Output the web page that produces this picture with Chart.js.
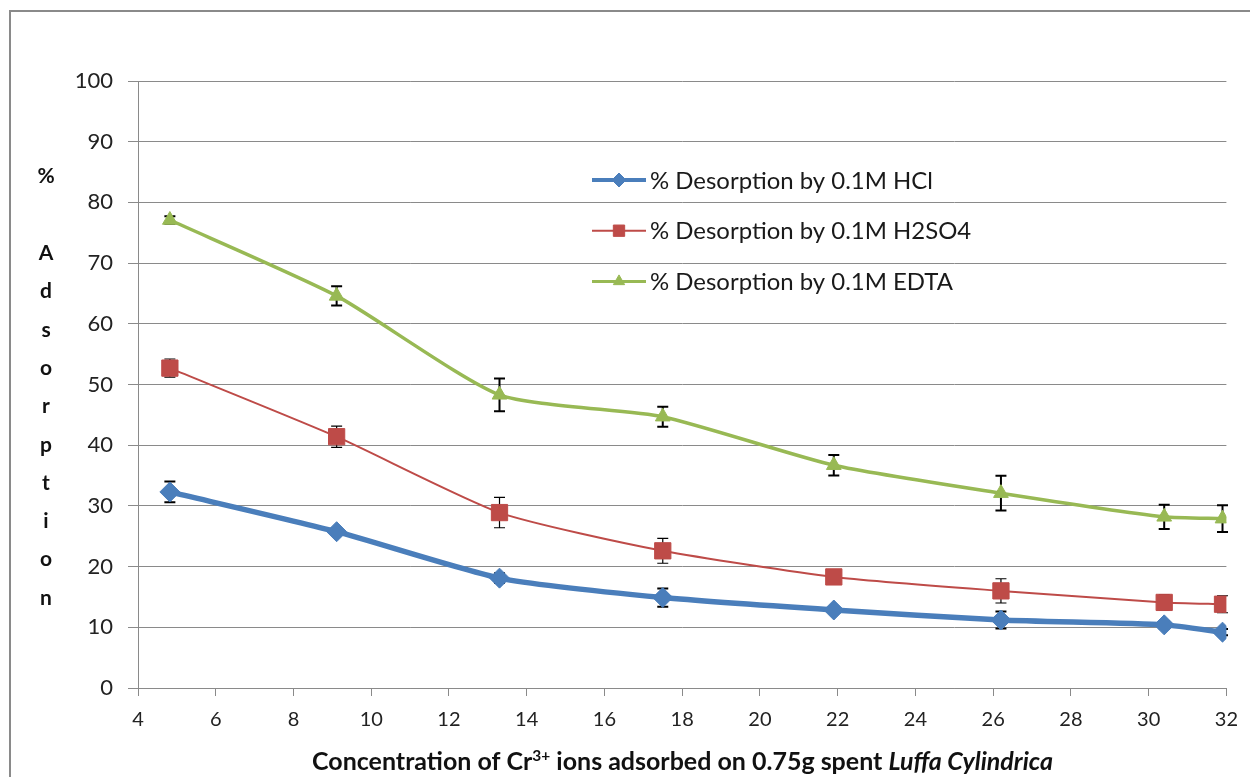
<!DOCTYPE html>
<html><head><meta charset="utf-8">
<script src="https://cdn.jsdelivr.net/npm/chart.js@4.4.1/dist/chart.umd.min.js"></script>
<style>html,body{margin:0;padding:0;background:#fff;}canvas{display:block;}</style>
</head><body>
<canvas id="c" width="1250" height="777"></canvas>
<script>
// ---- data ----
const concentration = [4.82, 9.11, 13.3, 17.5, 21.9, 26.2, 30.4, 31.9];
const hcl      = [32.3, 25.75, 18.1, 14.9, 12.85, 11.2, 10.4, 9.2];
const hclErr   = [1.7, 0.5, 0.8, 1.5, 0.5, 1.4, 0.6, 0.5];
const h2so4    = [52.7, 41.4, 28.9, 22.6, 18.3, 16.0, 14.1, 13.8];
const h2so4Err = [1.5, 1.75, 2.5, 2.05, 0.6, 2.0, 1.3, 1.4];
const edta     = [77.1, 64.6, 48.3, 44.7, 36.7, 32.1, 28.2, 27.9];
const edtaErr  = [0.6, 1.6, 2.7, 1.65, 1.7, 2.85, 2.0, 2.2];
const seriesLabels = ['% Desorption by 0.1M HCl', '% Desorption by 0.1M H2SO4', '% Desorption by 0.1M EDTA'];
const yTickValues = [0, 10, 20, 30, 40, 50, 60, 70, 80, 90, 100];
const xTickValues = [4, 6, 8, 10, 12, 14, 16, 18, 20, 22, 24, 26, 28, 30, 32];
const yTitleLines = ['%', '', 'A', 'd', 's', 'o', 'r', 'p', 't', 'i', 'o', 'n'];
const xTitleParts = [
  {text: 'Concentration of Cr', kind: 'bold'},
  {text: '3+', kind: 'sup'},
  {text: ' ions adsorbed on 0.75g spent ', kind: 'bold'},
  {text: 'Luffa Cylindrica', kind: 'bolditalic'}
];

const FONT = 'Lato';
const pts = ys => concentration.map((x, i) => ({x: x, y: ys[i]}));

const framePlugin = {
  id: 'frame',
  beforeDraw(chart) {
    const ctx = chart.ctx;
    ctx.save();
    ctx.fillStyle = '#fff';
    ctx.fillRect(0, 0, chart.width, chart.height);
    ctx.strokeStyle = '#8a8a8a';
    ctx.lineWidth = 2;
    ctx.strokeRect(10, 11, 1400, 1000);
    ctx.restore();
  }
};

const errorBarPlugin = {
  id: 'errbars',
  beforeDatasetsDraw(chart) {
    const ctx = chart.ctx, ys = chart.scales.y;
    ctx.save();
    ctx.strokeStyle = '#000';
    chart.data.datasets.forEach((ds, di) => {
      const meta = chart.getDatasetMeta(di);
      ctx.lineWidth = ds.errLineWidth;
      meta.data.forEach((p, j) => {
        const v = ds.data[j].y, e = ds.errs[j];
        const top = ys.getPixelForValue(v + e), bot = ys.getPixelForValue(v - e);
        ctx.beginPath();
        ctx.moveTo(p.x, top); ctx.lineTo(p.x, bot);
        ctx.moveTo(p.x - 5.5, top); ctx.lineTo(p.x + 5.5, top);
        ctx.moveTo(p.x - 5.5, bot); ctx.lineTo(p.x + 5.5, bot);
        ctx.stroke();
      });
    });
    ctx.restore();
  }
};

const textPlugin = {
  id: 'texts',
  afterDraw(chart) {
    const ctx = chart.ctx;
    ctx.save();
    // legend (inside plot, transparent)
    const legendX0 = 592, legendX1 = 646, textX = 650, legendY0 = 180, legendStep = 50.7;
    ctx.font = '20px ' + FONT;
    const lw = ctx.measureText(seriesLabels[0]).width;
    const legSize = 20 * 283 / lw;
    chart.data.datasets.forEach((ds, i) => {
      const y = legendY0 + i * legendStep;
      ctx.strokeStyle = ds.borderColor;
      ctx.lineWidth = ds.legendLineWidth;
      ctx.beginPath(); ctx.moveTo(legendX0, y); ctx.lineTo(legendX1, y); ctx.stroke();
      ctx.fillStyle = ds.backgroundColor;
      ctx.strokeStyle = ds.backgroundColor;
      ctx.lineWidth = 1;
      Chart.helpers.drawPoint(ctx, {pointStyle: ds.pointStyle, rotation: 0, borderWidth: 1, radius: ds.legendPointRadius},
        (legendX0 + legendX1) / 2, y);
      ctx.fillStyle = '#1a1a1a';
      ctx.font = legSize.toFixed(2) + 'px ' + FONT;
      ctx.textBaseline = 'middle';
      ctx.textAlign = 'left';
      ctx.fillText(ds.label, textX, y + 1);
    });

    // y-axis title: stacked letters
    ctx.fillStyle = '#111';
    ctx.font = 'bold 21px ' + FONT;
    ctx.textAlign = 'center';
    ctx.textBaseline = 'alphabetic';
    yTitleLines.forEach((s, i) => {
      if (s) ctx.fillText(s, 46, 260 + (i - 2) * 38.3);
    });

    // x-axis title with superscript and italic part
    const fontFor = (kind, size) => {
      if (kind === 'sup') return 'bold ' + (size * 0.62).toFixed(2) + 'px ' + FONT;
      if (kind === 'bolditalic') return 'italic bold ' + size.toFixed(2) + 'px ' + FONT;
      return 'bold ' + size.toFixed(2) + 'px ' + FONT;
    };
    let w = 0;
    xTitleParts.forEach(p => { ctx.font = fontFor(p.kind, 20); w += ctx.measureText(p.text).width; });
    const size = 20 * 741 / w;
    let total = 0;
    xTitleParts.forEach(p => { ctx.font = fontFor(p.kind, size); total += ctx.measureText(p.text).width; });
    let x = 682.5 - total / 2;
    const base = 770;
    ctx.textAlign = 'left';
    xTitleParts.forEach(p => {
      ctx.font = fontFor(p.kind, size);
      const yy = p.kind === 'sup' ? base - size * 0.38 : base;
      ctx.fillText(p.text, x, yy);
      x += ctx.measureText(p.text).width;
    });
    ctx.restore();
  }
};

function build() {
  new Chart(document.getElementById('c'), {
    type: 'line',
    data: {
      datasets: [
        {label: seriesLabels[0], data: pts(hcl), errs: hclErr, errLineWidth: 2,
         borderColor: '#4a7ebb', backgroundColor: '#4a7ebb', borderWidth: 5.5,
         pointStyle: 'rectRot', pointRadius: 10, pointBorderWidth: 1, pointBorderColor: '#4a7ebb',
         legendLineWidth: 4, legendPointRadius: 7, tension: 0.2},
        {label: seriesLabels[1], data: pts(h2so4), errs: h2so4Err, errLineWidth: 1.2,
         borderColor: '#be4b48', backgroundColor: '#be4b48', borderWidth: 2,
         pointStyle: 'rect', pointRadius: 11.5, pointBorderWidth: 1, pointBorderColor: '#be4b48',
         legendLineWidth: 2, legendPointRadius: 8, tension: 0.2},
        {label: seriesLabels[2], data: pts(edta), errs: edtaErr, errLineWidth: 2,
         borderColor: '#98b954', backgroundColor: '#98b954', borderWidth: 3.5,
         pointStyle: 'triangle', pointRadius: 8.5, pointBorderWidth: 1, pointBorderColor: '#98b954',
         legendLineWidth: 3, legendPointRadius: 6.5, tension: 0.2}
      ]
    },
    options: {
      responsive: false, animation: false, devicePixelRatio: 1,
      layout: {padding: {left: 0, top: 81, right: 21, bottom: 0}},
      plugins: {legend: {display: false}, tooltip: {enabled: false}},
      scales: {
        x: {
          type: 'linear', min: 4, max: 32,
          afterBuildTicks: s => { s.ticks = xTickValues.map(v => ({value: v})); },
          afterFit: s => { s.height = 89; },
          grid: {drawOnChartArea: false, drawTicks: true, tickLength: 8, color: '#8a8a8a', tickColor: '#8a8a8a'},
          border: {display: true, color: '#8a8a8a', width: 1},
          ticks: {font: {family: FONT, size: 20}, color: '#222', padding: 12, maxRotation: 0, autoSkip: false}
        },
        y: {
          min: 0, max: 100,
          afterBuildTicks: s => { s.ticks = yTickValues.map(v => ({value: v})); },
          afterFit: s => { s.width = 138; },
          grid: {color: '#8a8a8a', tickColor: '#8a8a8a', tickLength: 10, drawTicks: true},
          border: {display: true, color: '#8a8a8a', width: 1},
          ticks: {font: {family: FONT, size: 22}, color: '#222', padding: 15, autoSkip: false}
        }
      }
    },
    plugins: [framePlugin, errorBarPlugin, textPlugin]
  });
}

const loads = [document.fonts.load('20px Lato'), document.fonts.load('bold 20px Lato'), document.fonts.load('italic bold 20px Lato')];
Promise.race([Promise.all(loads), new Promise(r => setTimeout(r, 800))]).then(build, build);
</script>
</body></html>
